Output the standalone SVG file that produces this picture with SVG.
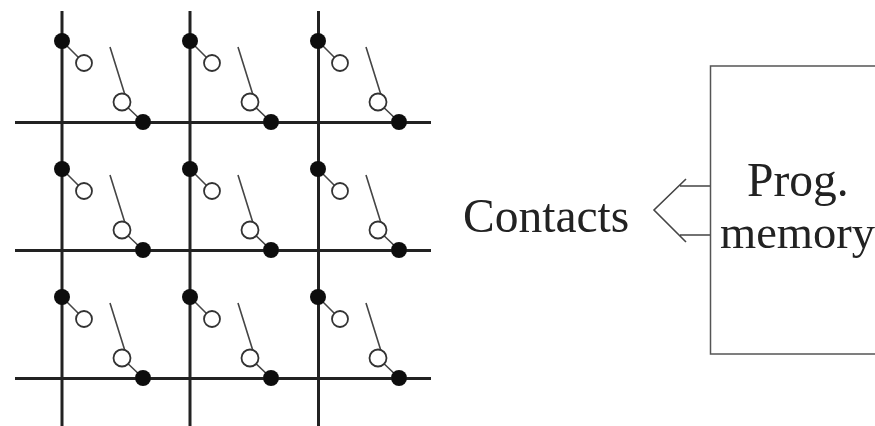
<svg xmlns="http://www.w3.org/2000/svg" width="875" height="426" viewBox="0 0 875 426">
<style>
.bus{stroke:#222;stroke-width:3;fill:none}
.thin{stroke:#444;stroke-width:1.6;fill:none}
.box{stroke:#555;stroke-width:1.5;fill:#fff}
.open{fill:#fff;stroke:#333;stroke-width:1.8}
.dot{fill:#111}
text{font-family:"Liberation Serif","Times New Roman",serif;fill:#222;font-size:47.500px}
</style>
<defs>
<filter id="soft" x="0" y="0" width="100%" height="100%"><feGaussianBlur stdDeviation="0.6"/></filter>
<g id="cell">
<path class="thin" d="M62 41L84 63"/>
<circle class="dot" cx="62" cy="41" r="8"/>
<circle class="open" cx="84" cy="63" r="8"/>
<path class="thin" d="M110 47L125 95M122 102L143 122"/>
<circle class="open" cx="122" cy="102" r="8.500"/>
<circle class="dot" cx="143" cy="122" r="8"/>
</g>
</defs>
<g filter="url(#soft)">
<g id="connectors">
<path class="bus" d="M62 11V426M190 11V426M318.500 11V426M15 122.500H431M15 250.500H431M15 378.500H431"/>
<path class="thin" d="M710 186H680M710 235H680M686 179L654 210L686 242"/>
</g>
<g id="switch-1-1"><use href="#cell"/></g>
<g id="switch-1-2"><use href="#cell" x="128"/></g>
<g id="switch-1-3"><use href="#cell" x="256"/></g>
<g id="switch-2-1"><use href="#cell" y="128"/></g>
<g id="switch-2-2"><use href="#cell" x="128" y="128"/></g>
<g id="switch-2-3"><use href="#cell" x="256" y="128"/></g>
<g id="switch-3-1"><use href="#cell" y="256"/></g>
<g id="switch-3-2"><use href="#cell" x="128" y="256"/></g>
<g id="switch-3-3"><use href="#cell" x="256" y="256"/></g>
<g id="contacts"><text x="463" y="232">Contacts</text></g>
<g id="prog-memory">
<path class="box" d="M875 66H710.500V354H875"/>
<text x="747" y="196">Prog.</text>
<text x="720" y="248" style="font-size:46.500px">memory</text>
</g>
</g>
</svg>
